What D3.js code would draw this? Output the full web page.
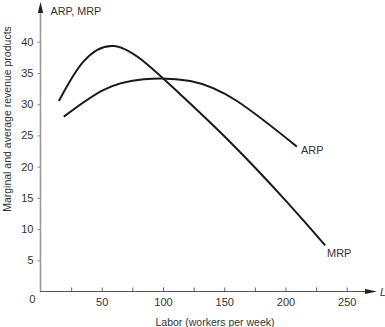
<!DOCTYPE html>
<html><head><meta charset="utf-8">
<script src="https://cdn.jsdelivr.net/npm/d3@7"></script>
<style>body{margin:0;background:#fff}svg{display:block;font-family:"Liberation Sans",Arial,sans-serif}</style>
</head><body><svg id="c" width="385" height="327"></svg>
<script>
const mrpL = [15, 35, 60, 87, 114, 155, 200, 232.4];
const mrpV = [30.5, 36.8, 39.3, 36.4, 31.6, 23.9, 14.6, 7.4];
const arpL = [19, 51.6, 84.2, 122.3, 160.4, 209.3];
const arpV = [28.0, 32.3, 34.0, 33.7, 30.5, 23.2];
const yTicks = [5, 10, 15, 20, 25, 30, 35, 40];
const xTicks = [25, 50, 75, 100, 125, 150, 175, 200, 225, 250];
const xLabels = [50, 100, 150, 200, 250];

const svg = d3.select("#c");
const x = d3.scaleLinear().domain([0, 250]).range([40.5, 346.7]);
const y = d3.scaleLinear().domain([0, 40]).range([291.5, 41.7]);
const txt = "#333";

// Y axis
const ya = svg.append("g").attr("transform", "translate(40.5,0)")
  .call(d3.axisLeft(y).tickValues(yTicks).tickSize(3).tickPadding(4));
ya.select(".domain").remove();
ya.selectAll("line").attr("stroke", "#888");
ya.selectAll("text").attr("font-size", 11).attr("fill", txt).attr("font-family", "Liberation Sans, Arial, sans-serif");

// X axis
const xa = svg.append("g").attr("transform", "translate(0,291.5)")
  .call(d3.axisBottom(x).tickValues(xTicks).tickSize(-4).tickPadding(8)
    .tickFormat(d => xLabels.includes(d) ? d : ""));
xa.select(".domain").remove();
xa.selectAll("line").attr("stroke", "#666");
xa.selectAll("text").attr("font-size", 11).attr("fill", txt).attr("dy", "0.71em").attr("y", 7)
  .attr("font-family", "Liberation Sans, Arial, sans-serif");
svg.append("text").attr("x", 32.3).attr("y", 303).attr("text-anchor", "middle")
  .attr("font-size", 11).attr("fill", txt).text("0");

// axis lines
svg.append("line").attr("x1", 40.5).attr("x2", 40.5).attr("y1", 292).attr("y2", 10)
  .attr("stroke", "#999").attr("stroke-width", 1.6);
svg.append("path").attr("d", "M40.5,2 L37.8,13 L43.2,13 Z").attr("fill", "#222");
svg.append("line").attr("x1", 40).attr("x2", 368).attr("y1", 291.5).attr("y2", 291.5)
  .attr("stroke", "#555").attr("stroke-width", 1);
svg.append("path").attr("d", "M377,291.5 L365,289 L365,294 Z").attr("fill", "#222");
svg.append("text").attr("x", 380).attr("y", 295.5).attr("font-size", 11).attr("font-style", "italic")
  .attr("fill", txt).text("L");

svg.append("text").attr("x", 50.5).attr("y", 15).attr("font-size", 10.8).attr("fill", txt).text("ARP, MRP");

// titles
svg.append("text").attr("x", 215).attr("y", 326).attr("text-anchor", "middle")
  .attr("font-size", 10.5).attr("fill", txt).text("Labor (workers per week)");
svg.append("text").attr("transform", "translate(11,119) rotate(-90)").attr("text-anchor", "middle")
  .attr("font-size", 10.5).attr("fill", txt).text("Marginal and average revenue products");

// curves
const ln = d3.line().x(d => x(d[0])).y(d => y(d[1])).curve(d3.curveNatural);
svg.append("path").datum(mrpL.map((l, i) => [l, mrpV[i]])).attr("d", ln)
  .attr("fill", "none").attr("stroke", "#1a1a1a").attr("stroke-width", 2);
svg.append("path").datum(arpL.map((l, i) => [l, arpV[i]])).attr("d", ln)
  .attr("fill", "none").attr("stroke", "#1a1a1a").attr("stroke-width", 2);

svg.append("text").attr("x", 301).attr("y", 154).attr("font-size", 11).attr("fill", txt).text("ARP");
svg.append("text").attr("x", 327).attr("y", 257).attr("font-size", 11).attr("fill", txt).text("MRP");
</script></body></html>
